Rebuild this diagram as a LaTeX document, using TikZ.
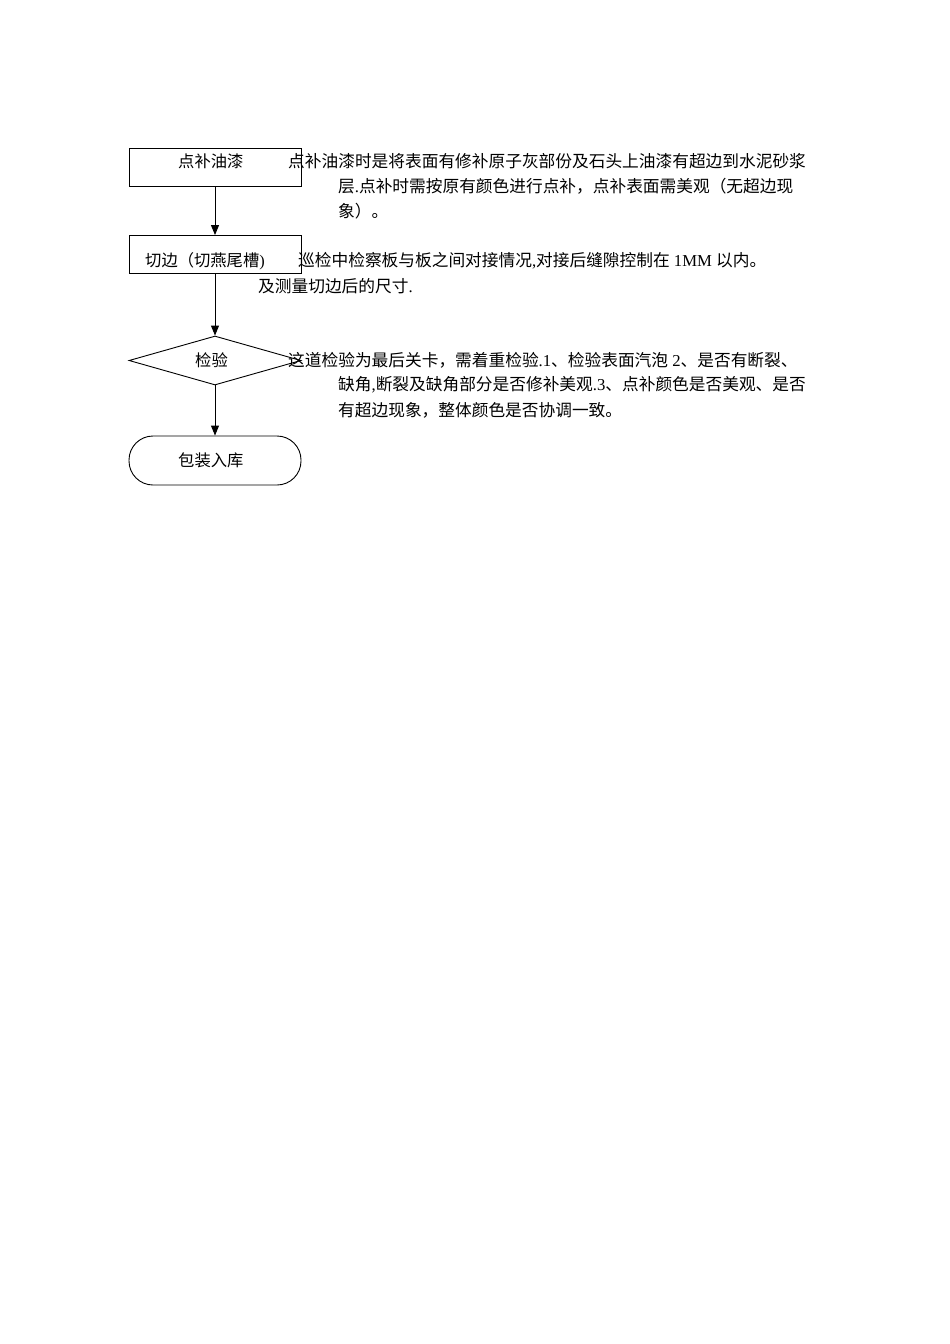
\documentclass[tikz,border=0pt]{standalone}
\usepackage{fontspec}
\setmainfont{Noto Sans CJK SC}
\newfontfamily\lat{Liberation Serif}
\usetikzlibrary{shapes.geometric,arrows.meta}
\tikzset{
  shp/.style={draw=black, line width=0.9pt, inner sep=0pt, minimum width=172pt},
  boxshape/.style={shp, rectangle, minimum height=38pt},
  diashape/.style={shp, diamond, minimum height=49pt},
  termshape/.style={shp, rectangle, rounded corners=24pt, minimum height=49pt},
  txt/.style={anchor=west, inner sep=0pt, font=\fontsize{16.3}{20}\selectfont},
  desc/.style={anchor=west, inner sep=0pt, font=\fontsize{16.7}{20}\selectfont},
  flow/.style={line width=0.9pt, -{Triangle[length=10pt,width=8pt]}}
}
\begin{document}
\begin{tikzpicture}[x=1pt,y=-1pt]
\useasboundingbox (0,0) rectangle (950,1344);
\fill[white] (0,0) rectangle (950,1344);
% shapes
\node[boxshape] (b1) at (215,167) {};
\node[boxshape] (b2) at (215,254.5) {};
\node[diashape] (d3) at (215,360.5) {};
\node[termshape] (e4) at (215,460.5) {};
% connectors
\draw[flow] (b1.south) -- (b2.north);
\draw[flow] (b2.south) -- (d3.north);
\draw[flow] (d3.south) -- (e4.north);
% labels in shapes
\node[txt] (l1) at (178,161) {点补油漆};
\node[txt] (l2) at (145,261) {切边（切燕尾槽{\lat )}};
\node[txt] (l3) at (195,360) {检验};
\node[txt] (l4) at (178,460) {包装入库};
% descriptions
\node[desc] (a1) at (288,161) {点补油漆时是将表面有修补原子灰部份及石头上油漆有超边到水泥砂浆};
\node[desc] (a2) at (338,186) {层{\lat .}点补时需按原有颜色进行点补，点补表面需美观（无超边现};
\node[desc] (a3) at (338,211) {象）。};
\node[desc] (c1) at (298,261) {巡检中检察板与板之间对接情况{\lat ,}对接后缝隙控制在{\lat\ 1MM }以内。};
\node[desc] (c2) at (258,286) {及测量切边后的尺寸{\lat .}};
\node[desc] (e1) at (288,360) {这道检验为最后关卡，需着重检验{\lat .1}、检验表面汽泡{\lat\ 2}、是否有断裂、};
\node[desc] (e2) at (338,385) {缺角{\lat ,}断裂及缺角部分是否修补美观{\lat .3}、点补颜色是否美观、是否};
\node[desc] (e3) at (338,410) {有超边现象，整体颜色是否协调一致。};
\end{tikzpicture}
\end{document}
